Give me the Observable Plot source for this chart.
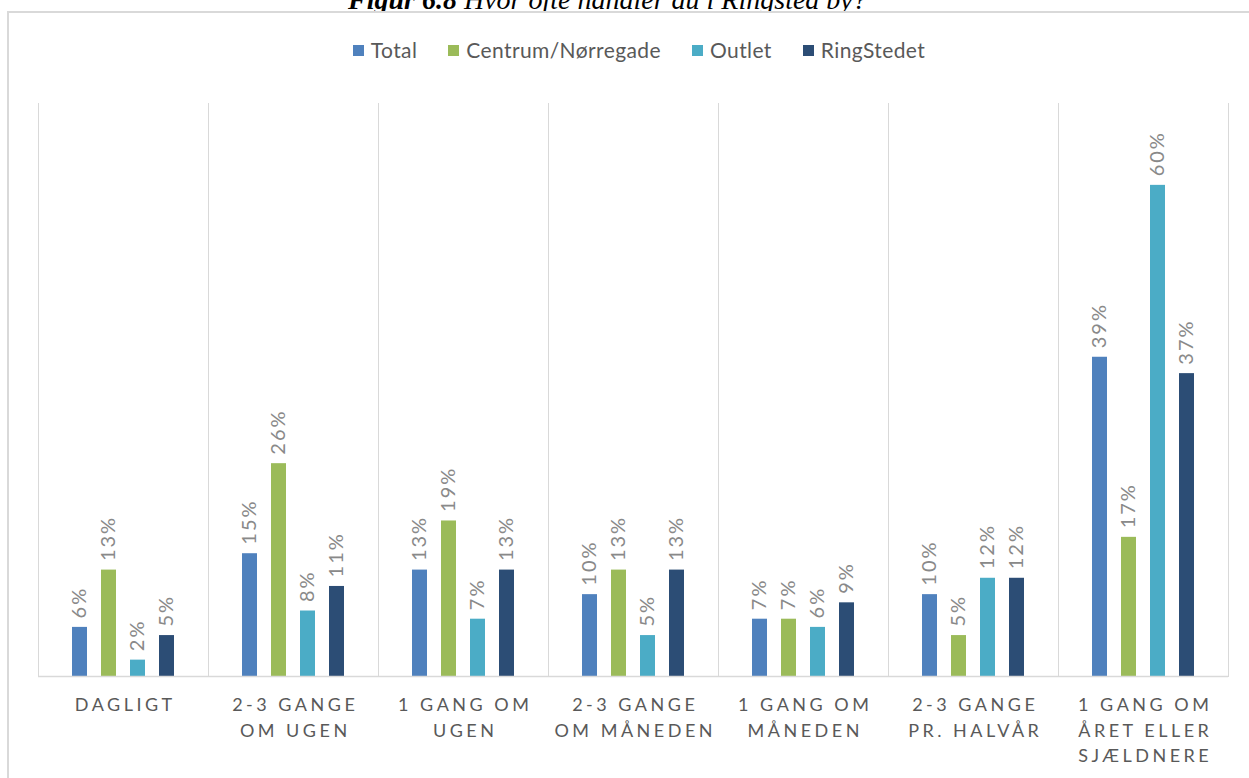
<!DOCTYPE html>
<html><head><meta charset="utf-8">
<script src="https://cdn.jsdelivr.net/npm/d3@7"></script>
<script src="https://cdn.jsdelivr.net/npm/@observablehq/plot@0.6"></script>
<style>
body{margin:0;background:#fff;overflow:hidden;width:1249px;height:778px;position:relative;font-family:Lato,sans-serif;}
#title{position:absolute;left:348px;top:-14px;font-family:"Liberation Serif",serif;font-style:italic;font-size:28px;line-height:28px;white-space:nowrap;color:#000;z-index:1;}
#border{position:absolute;left:7px;top:11px;width:1300px;height:900px;border:2px solid #d9d9d9;box-sizing:border-box;background:#fff;z-index:2;}
#legend{position:absolute;top:38px;left:0;width:1278px;display:flex;justify-content:center;gap:31px;z-index:3;font-size:21px;letter-spacing:0.4px;line-height:24px;color:#595959;}
#legend .item{display:flex;align-items:center;}
#legend .sw{width:11px;height:11px;margin-right:7px;}
#chart{position:absolute;left:0;top:80px;z-index:3;}
#chart svg [aria-label="fx-axis tick label"]{letter-spacing:3.5px;}
#chart svg .vlabel{letter-spacing:2px;}
</style>
</head><body>
<div id="title"><b>Figur 6.8</b> Hvor ofte handler du i Ringsted by?</div>
<div id="border"></div>
<div id="legend"></div>
<div id="chart"></div>
<script>
const categories = ["DAGLIGT","2-3 GANGE\nOM UGEN","1 GANG OM\nUGEN","2-3 GANGE\nOM MÅNEDEN","1 GANG OM\nMÅNEDEN","2-3 GANGE\nPR. HALVÅR","1 GANG OM\nÅRET ELLER\nSJÆLDNERE"];
const series = ["Total","Centrum/Nørregade","Outlet","RingStedet"];
const total = [6,15,13,10,7,10,39];
const centrum = [13,26,19,13,7,5,17];
const outlet = [2,8,7,5,6,12,60];
const ringstedet = [5,11,13,13,9,12,37];
const colors = ["#4f81bd","#9bbb59","#4bacc6","#2c4d75"];

const valuesBySeries = [total, centrum, outlet, ringstedet];
const data = categories.flatMap((c, i) => series.map((s, j) => ({cat: c, series: s, value: valuesBySeries[j][i]})));

const legend = document.getElementById("legend");
series.forEach((s, j) => {
  const it = document.createElement("div"); it.className = "item";
  const sw = document.createElement("span"); sw.className = "sw"; sw.style.background = colors[j];
  const tx = document.createElement("span"); tx.textContent = s;
  it.append(sw, tx); legend.append(it);
});

const chart = Plot.plot({
  width: 1249, height: 698,
  marginTop: 23, marginBottom: 102, marginLeft: 37, marginRight: 20,
  style: {fontFamily: "Lato, sans-serif", background: "transparent"},
  fx: {domain: categories, padding: 0, label: null, axis: null},
  x: {domain: series, paddingInner: 0.475, paddingOuter: 1.12, axis: null},
  y: {domain: [0, 70], axis: null},
  color: {domain: series, range: colors},
  marks: [
    Plot.frame({anchor: "left", stroke: "#d9d9d9"}),
    Plot.frame({anchor: "right", stroke: "#d9d9d9"}),
    Plot.barY(data, {fx: "cat", x: "series", y: "value", fill: "series"}),
    Plot.ruleY([0], {stroke: "#d9d9d9", strokeWidth: 1.5}),
    Plot.text(data, {fx: "cat", x: "series", y: "value", text: d => d.value + "%", rotate: -90, textAnchor: "start", dy: -9, fill: "#898989", fontSize: 20, className: "vlabel"}),
    Plot.axisFx({anchor: "bottom", tickSize: 0, tickPadding: 17, fontSize: 18, lineHeight: 1.4, fill: "#595959", label: null, dx: 1.75})
  ]
});
document.getElementById("chart").append(chart);
</script>
</body></html>
